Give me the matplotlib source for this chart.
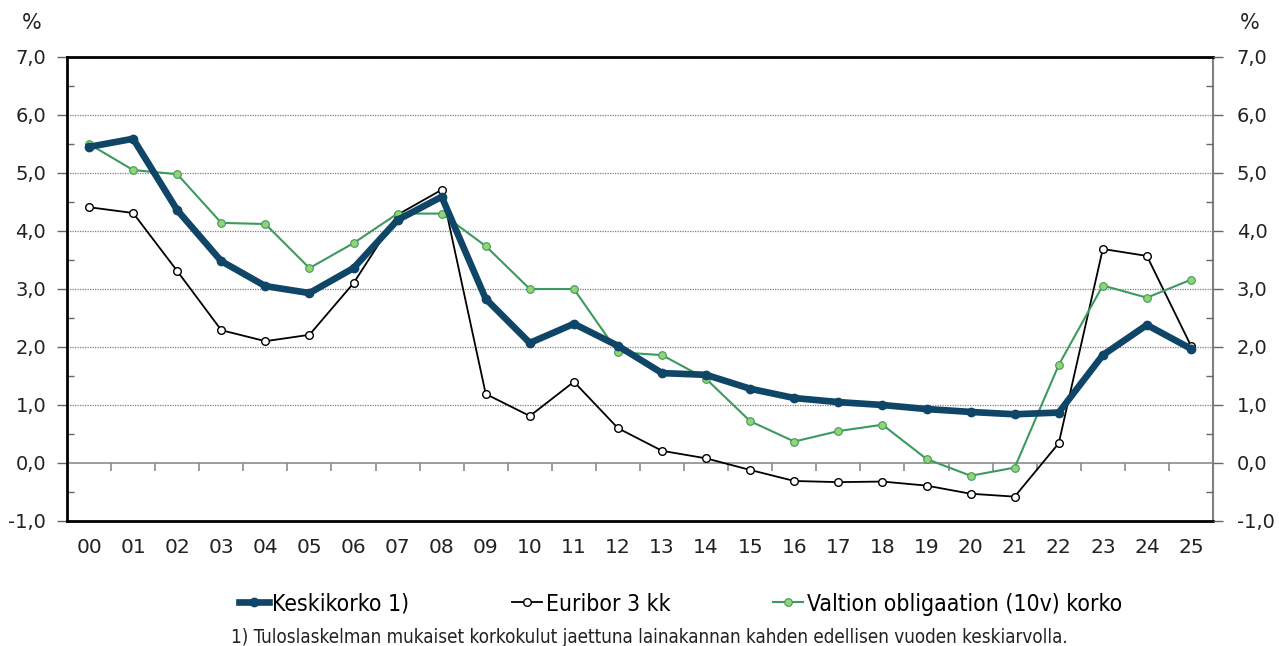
"""
Keskikorko, Euribor 3 kk ja valtion 10v obligaatio 2000-2025
"""

import numpy as np
from matplotlib import pyplot as plt
from matplotlib.font_manager import FontProperties
from matplotlib.ticker import FixedLocator, MultipleLocator

years = ["00", "01", "02", "03", "04", "05", "06", "07", "08", "09",
         "10", "11", "12", "13", "14", "15", "16", "17", "18", "19",
         "20", "21", "22", "23", "24", "25"]

keskikorko = [5.45, 5.59, 4.36, 3.48, 3.05, 2.93, 3.36, 4.19, 4.59, 2.83,
              2.07, 2.40, 2.02, 1.55, 1.52, 1.28, 1.12, 1.05, 1.00, 0.93,
              0.88, 0.84, 0.87, 1.86, 2.38, 1.97]

euribor = [4.41, 4.31, 3.31, 2.29, 2.10, 2.21, 3.10, 4.28, 4.71, 1.19,
           0.81, 1.40, 0.60, 0.21, 0.08, -0.12, -0.31, -0.33, -0.32, -0.39,
           -0.53, -0.58, 0.34, 3.69, 3.57, 2.02]

valtion = [5.50, 5.05, 4.98, 4.14, 4.12, 3.36, 3.79, 4.30, 4.30, 3.74,
           3.00, 3.00, 1.91, 1.86, 1.45, 0.72, 0.37, 0.55, 0.66, 0.07,
           -0.22, -0.08, 1.69, 3.06, 2.85, 3.16]

labels = ["Keskikorko 1)", "Euribor 3 kk", "Valtion obligaation (10v) korko"]
footnote = ("1) Tuloslaskelman mukaiset korkokulut jaettuna lainakannan "
            "kahden edellisen vuoden keskiarvolla.")

NAVY = "#0f4567"
GREEN = "#3d9a5e"
LIGHTGREEN = "#93d374"

fig = plt.figure(figsize=(12.79, 6.46), dpi=100)
ax = fig.add_axes([0.0524, 0.1935, 0.8960, 0.7183])

x = np.arange(len(years))

# gridlines first so the lines sit on top
for v in range(1, 8):
    ax.axhline(v, color="#7f7f7f", lw=0.9, ls=(0, (1, 1)), zorder=1)
ax.axhline(0, color="#8c8c8c", lw=1.2, zorder=1)

ax.plot(x, euribor, color="black", lw=1.3, marker="o", ms=5.5,
        mfc="white", mec="black", mew=1.0, label=labels[1], zorder=3)
ax.plot(x, valtion, color=GREEN, lw=1.5, marker="o", ms=5.5,
        mfc=LIGHTGREEN, mec=GREEN, mew=0.8, label=labels[2], zorder=4)
ax.plot(x, keskikorko, color=NAVY, lw=4.8, marker="o", ms=6,
        mfc=NAVY, mec=NAVY, label=labels[0], zorder=5)

ax.set_xlim(-0.5, len(years) - 0.5)
ax.set_ylim(-1, 7)

# y axis, left
yt = np.arange(-1, 8)
ylabels = [f"{v:.1f}".replace(".", ",") for v in yt]
ax.set_yticks(yt)
ax.set_yticklabels(ylabels, fontsize=14, color="#222222")
ax.yaxis.set_minor_locator(MultipleLocator(0.5))
ax.tick_params(axis="y", which="major", direction="out", length=7,
               width=1, color="#666666", pad=8)
ax.tick_params(axis="y", which="minor", direction="in", length=5,
               width=1, color="#666666")

# x labels under the plot, tick marks on the zero line
ax.set_xticks(x)
ax.set_xticklabels(years, fontsize=14.5, color="#222222")
ax.tick_params(axis="x", which="both", length=0, pad=12)

zero_ax = ax.secondary_xaxis(1 / 8)
zero_ax.xaxis.set_major_locator(FixedLocator(np.arange(0.5, len(years) - 1, 1)))
zero_ax.tick_params(axis="x", direction="out", length=6, width=1.2,
                    color="#8c8c8c", labelbottom=False, labeltop=False)
zero_ax.spines["bottom"].set_visible(False)

for side in ["top", "bottom", "left"]:
    ax.spines[side].set_color("black")
    ax.spines[side].set_linewidth(2.0)
ax.spines["right"].set_color("#808080")
ax.spines["right"].set_linewidth(1.5)

# right axis copies the left one
ax2 = ax.twinx()
ax2.set_ylim(-1, 7)
ax2.set_yticks(yt)
ax2.set_yticklabels(ylabels, fontsize=14, color="#222222")
ax2.yaxis.set_minor_locator(MultipleLocator(0.5))
ax2.tick_params(axis="y", which="major", direction="out", length=7,
                width=1, color="#666666", pad=10)
ax2.tick_params(axis="y", which="minor", direction="in", length=5,
                width=1, color="#666666")
for side in ["top", "bottom", "left", "right"]:
    ax2.spines[side].set_visible(False)

fig.text(0.025, 0.965, "%", fontsize=15, ha="center", va="center", color="#222222")
fig.text(0.977, 0.965, "%", fontsize=15, ha="center", va="center", color="#222222")

narrow_leg = FontProperties(family="DejaVu Sans", stretch="condensed", size=16.5)
narrow_note = FontProperties(family="DejaVu Sans", stretch="condensed", size=13.5)

handles, labs = ax.get_legend_handles_labels()
order = [2, 0, 1]
leg = fig.legend([handles[i] for i in order], [labs[i] for i in order],
                 loc="center", bbox_to_anchor=(0.532, 0.065), ncol=3,
                 frameon=False, handlelength=1.3, handletextpad=0.15,
                 columnspacing=4.5, prop=narrow_leg)

fig.text(0.181, 0.013, footnote, fontproperties=narrow_note,
         ha="left", va="center", color="#222222")

fig.savefig("out.png", dpi=100)
